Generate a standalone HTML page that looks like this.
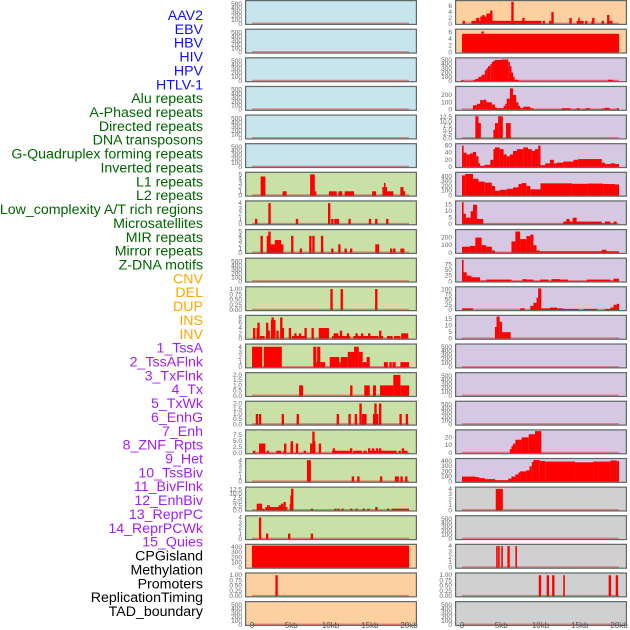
<!DOCTYPE html>
<html><head><meta charset="utf-8"><style>
html,body{margin:0;padding:0;background:#fff;width:630px;height:630px;overflow:hidden}
svg{display:block;font-family:"Liberation Sans",sans-serif}
</style></head><body>
<svg id="chart" width="630" height="630"></svg>
<script>
// ---- data ----
const labelTexts=["AAV2","EBV","HBV","HIV","HPV","HTLV-1","Alu repeats","A-Phased repeats","Directed repeats","DNA transposons","G-Quadruplex forming repeats","Inverted repeats","L1 repeats","L2 repeats","Low_complexity A/T rich regions","Microsatellites","MIR repeats","Mirror repeats","Z-DNA motifs","CNV","DEL","DUP","INS","INV","1_TssA","2_TssAFlnk","3_TxFlnk","4_Tx","5_TxWk","6_EnhG","7_Enh","8_ZNF_Rpts","9_Het","10_TssBiv","11_BivFlnk","12_EnhBiv","13_ReprPC","14_ReprPCWk","15_Quies","CPGisland","Methylation","Promoters","ReplicationTiming","TAD_boundary"];
const labelGroups=[6,13,5,15,5];
const labelColors=["#1010ee","#006400","#ffa500","#a020f0","#000000"];
const xTickLabels=["0","5kb","10kb","15kb","20kb"];
const xTickValues=[0,5,10,15,20];
const leftBg=["b","b","b","b","b","b","g","g","g","g","g","g","g","g","g","g","g","g","g","o","o","o"];
const rightBg=["o","o","p","p","p","p","p","p","p","p","p","p","p","p","p","p","p","y","y","y","y","y"];
const E=[0,100,200,300,400,500];
const leftYmax=[550,550,550,550,550,550,5.2,4.2,5.2,550,1.05,8.3,4.3,2.1,2.1,9.2,4.1,13.2,4.1,430,1.05,550];
const leftTicks=[E,E,E,E,E,E,[0,1,2,3,4,5],[0,1,2,3,4],[0,1,2,3,4,5],E,[0,0.25,0.5,0.75,1],[0,2,4,6,8],[0,1,2,3,4],[0,0.5,1,1.5,2],[0,0.5,1,1.5,2],[0,2.5,5,7.5],[0,1,2,3,4],[0,2.5,5,7.5,10,12.5],[0,1,2,3,4],[0,100,200,300,400],[0,0.25,0.5,0.75,1],E];
const rightYmax=[7.5,6.5,520,300,13,62,460,17,290,97,107,17,550,550,550,28,425,4.1,550,4.1,1.05,550];
const rightTicks=[[0,2,4,6],[0,2,4,6],[0,100,200,300,400,500],[0,100,200],[0,2.5,5,7.5,10,12.5],[0,20,40,60],[0,100,200,300,400],[0,5,10,15],[0,100,200],[0,25,50,75],[0,25,50,75,100],[0,5,10,15],E,E,E,[0,10,20],[0,100,200,300,400],[0,1,2,3,4],E,[0,1,2,3,4],[0,0.25,0.5,0.75,1],E];
// segments [startKb,endKb,value] or spikes [posKb,value]
const L6=[[1.1,1.7,4.5],[3.9,4.4,1],[7.4,8.0,5],[8.0,8.2,1],[9.8,10.8,1],[11.0,11.5,1],[11.8,13.0,1],[15.3,15.8,1],[16.6,16.8,2],[16.8,16.95,3],[16.95,17.2,2],[17.2,18.0,1],[18.9,19.3,2],[19.3,19.5,1]];
const L7=[[0.5,1],[2.2,4],[5.7,1],[9.8,4],[10.2,1],[10.6,1],[10.9,1],[12.4,1],[15.0,1],[15.8,1],[17.2,1]];
const L8=[[1.2,4],[1.9,4.0,2],[2.0,4],[2.2,5],[2.9,3.7,3],[5.1,4],[6.2,1],[7.4,4],[7.8,4],[8.9,4],[10.2,1],[11.1,2],[11.9,1],[12.6,1],[15.7,16.2,2],[17.7,1],[18.1,1],[18.9,19.4,1]];
const L10=[[10.1,1],[11.4,1],[15.8,1]];
const L11=[[0.25,4],[0.7,4],[0.8,6],[1.0,1.6,1],[1.9,6],[2.1,3],[2.4,3.0,7],[2.6,8],[3.1,3.4,3],[3.7,8],[3.9,4],[4.8,4],[5.1,6.8,1],[5.5,2],[6.1,2],[6.8,4],[7.7,4],[8.5,9.8,4],[10.2,12.5,1],[10.4,11.0,2],[11.3,3],[12.2,2],[12.9,16.1,1],[13.3,2],[14.0,2],[14.9,2],[16.3,3],[16.4,16.7,1],[17.2,17.9,1],[18.1,18.9,1],[19.0,19.9,2]];
const L12=[[0,1.3,4],[1.5,3.8,4],[7.8,8.2,4],[8.3,8.7,4],[8.2,8.3,1],[8.7,9.3,1],[9.9,11.1,2],[11.1,11.3,1],[11.3,12.2,2],[12.2,13.0,3],[13.0,13.6,4],[13.6,14.1,3],[14.1,14.6,1],[14.6,15.0,2],[16.8,17.3,1],[17.5,17.8,1],[17.9,18.3,1],[18.9,20.0,1]];
const L13=[[6.0,6.5,1],[12.5,12.8,1],[14.3,15.0,1],[15.4,15.8,1],[16.3,18.0,1],[18.0,18.9,2],[18.9,20.0,1]];
const L14=[[0.6,1],[1.0,1],[3.9,1],[5.8,1],[10.9,1],[12.4,1],[13.2,1],[13.8,2],[14.0,14.6,1],[15.4,16.1,1],[15.7,2],[16.3,2],[18.9,1],[19.7,1]];
const L15=[[0.25,1],[0.9,1.7,4],[2.0,1],[3.1,3.7,1],[4.0,4.3,1],[4.2,4],[4.9,5.2,4],[5.05,5],[5.7,4],[6.7,1],[7.4,7.7,4],[7.8,9],[7.9,5],[8.5,8.8,4],[10.2,12.5,1],[10.4,2],[12.6,2],[12.9,14.0,1],[14.2,14.6,1],[14.8,16.9,1],[14.9,2],[15.4,2],[15.9,2],[16.3,2],[16.9,18.4,1],[18.8,1],[19.2,2],[19.3,19.8,1]];
const L16=[[7.0,7.5,4],[12.7,13.0,1],[13.4,13.7,1],[16.3,16.6,1],[18.2,18.7,1],[18.9,19.2,1],[19.5,19.8,1]];
const L17=[[0.6,1.0,4],[1.0,1.6,1],[1.1,4],[1.7,4.2,2],[1.9,2.3,3],[3.5,3],[3.8,4],[4.0,4.3,5],[4.3,4.5,2],[4.8,5.1,4],[5.0,9],[5.1,13],[7.6,1],[10.6,1],[11.0,1],[11.5,1],[12.6,1],[13.3,1],[14.2,1],[14.8,1],[15.7,16.0,2],[17.3,1],[17.8,20.0,1]];
const L18=[[1.0,4],[1.9,1],[4.7,1],[7.6,1]];
const L19=[[0,20.0,430]];
const L20=[[3.1,1]];
const R0=[[0.2,1],[1.2,1.8,1],[1.8,2.2,2],[2.2,2.5,1],[2.45,2.5],[2.5,3.1,2.5],[2.7,3],[3.1,3.7,3.5],[3.7,4.5],[3.7,10.1,1],[6.3,6.5,3],[6.4,7.5],[7.8,2],[10.4,1],[11.2,1],[11.5,4],[13.8,2],[14.6,15.5,1],[14.8,15.0,2],[15.8,1],[16.6,1],[16.7,2],[17.9,1],[18.5,18.9,1],[18.6,3],[19.0,1]];
const R1=[[0,20,5.5],[2.6,6.2]];
const R2=[[0,20],[1.4,1.7,20],[1.7,2.1,50],[2.1,2.5,100],[2.5,2.9,150],[2.9,3.1,250],[3.1,3.3,300],[3.3,3.6,350],[3.6,3.8,400],[3.8,4.0,450],[4.0,4.2,480],[4.2,5.1,500],[5.1,5.9,510],[5.9,6.1,450],[6.1,6.3,350],[6.3,6.5,200],[6.5,6.7,100],[6.7,7.2,30],[7.2,20,5],[18.6,19.2,30]];
const R3=[[1.4,1.9,60],[1.9,2.3,80],[2.3,2.7,130],[2.7,3.1,135],[3.1,3.8,100],[3.8,4.2,70],[4.2,4.4,30],[4.4,5.3,20],[5.3,5.5,50],[5.5,5.7,80],[5.7,6.1,150],[6.1,6.5,290],[6.5,6.9,200],[6.9,7.2,100],[7.2,7.4,50],[7.4,7.8,20],[7.8,8.7,40],[8.7,9.1,20],[9.1,19.7,5],[12.7,13.8,20],[14.6,15.0,20],[15.7,16.3,20],[17.8,18.4,15],[18.2,18.8,25],[19.7,20,20]];
const R4=[[1.7,2.1,13],[2.1,2.4,9],[4.0,4.2,5],[4.2,4.6,9],[4.6,5.2,13],[5.6,6.2,9]];
const R5=[[0,0.2,60],[0.2,0.6,40],[0.6,1.0,35],[1.0,1.4,38],[1.4,1.8,42],[1.8,2.1,30],[2.1,2.3,10],[2.3,2.9,3],[2.9,3.6,6],[3.6,4.0,20],[4.0,4.2,50],[4.2,4.8,55],[4.8,5.3,50],[5.3,5.7,35],[5.7,6.1,30],[6.1,6.5,35],[6.5,7.0,45],[7.0,7.8,50],[7.8,8.4,55],[8.4,8.9,50],[8.9,9.3,45],[9.3,9.7,50],[9.7,10.0,60],[10.0,10.6,5],[10.6,11.2,10],[11.2,11.7,20],[11.7,12.1,10],[12.1,12.9,12],[12.9,13.3,15],[13.3,14.2,15],[14.2,14.8,20],[14.8,17.8,22],[17.8,18.2,12],[18.2,18.9,8],[18.9,19.5,10],[19.5,20,8]];
const R6=[[0,0.4,420],[0.4,1.4,450],[1.4,2.1,350],[2.1,2.9,290],[2.9,3.8,270],[3.8,4.2,200],[4.2,4.8,100],[4.8,5.7,120],[5.7,6.5,140],[6.5,7.2,170],[7.2,7.6,240],[7.6,8.2,260],[8.2,8.7,200],[8.7,10.0,130],[10.0,14.0,255],[14.0,16.0,245],[16.0,18.0,250],[18.0,19.5,240],[19.5,20,230]];
const R7=[[0,0.2,17],[0.2,0.5,8],[0.5,1.1,5],[1.1,1.4,10],[1.4,1.9,15],[1.9,2.7,4],[2.7,12.9,0.3],[12.9,13.3,2],[13.3,13.7,4],[13.7,14.1,2],[14.1,14.6,5],[14.6,17.8,2],[17.8,18.2,0.5],[18.2,18.9,2],[18.9,19.3,0.5],[19.3,19.7,2]];
const R8=[[0,1.0,80],[1.0,1.7,90],[1.7,2.5,200],[2.5,3.1,100],[3.1,3.8,80],[3.8,4.2,30],[4.2,6.3,5],[6.3,6.8,150],[6.8,7.4,280],[7.4,8.2,180],[8.2,8.7,220],[8.7,9.1,240],[9.1,9.5,100],[9.5,9.9,30],[9.9,20,20],[17.8,18.4,40]];
const R9=[[0,0.2,95],[0.2,0.6,40],[0.6,1.2,25],[1.2,2.3,18],[2.3,3.1,3],[3.1,6.3,8],[6.3,7.7,2],[7.7,8.2,10],[8.2,9.1,8],[9.1,9.9,2],[9.9,11.0,8],[11.0,11.4,2],[11.4,12.5,10],[12.5,13.5,8],[13.5,15.9,2],[15.9,18.9,8],[18.9,19.3,2],[19.3,20,12]];
const R10=[[0,1.4,8],[7.4,8.0,8],[8.7,9.1,20],[9.1,9.5,35],[9.5,9.7,60],[9.7,10.1,105],[10.1,11.2,8],[11.2,12.1,12],[12.1,12.9,8],[12.9,14.9,5],[15.5,17.2,5],[18.2,18.9,5],[18.9,19.3,12],[19.3,19.7,25],[19.7,20,30]];
const R11=[[4.2,4.4,9],[4.4,4.8,17],[4.8,5.1,13],[5.1,6.2,5]];
const R15=[[6.1,6.3,5],[6.3,6.5,9],[6.5,6.8,12],[6.8,7.6,17],[7.6,8.5,20],[8.5,9.3,24],[9.3,10.1,28]];
const R16=[[0,1.7,100],[1.7,2.2,90],[2.2,2.9,70],[2.9,4.2,50],[4.2,5.9,30],[5.9,6.3,60],[6.3,6.8,100],[6.8,7.2,140],[7.2,7.4,180],[7.4,8.2,200],[8.2,8.6,220],[8.6,8.9,300],[8.9,9.1,380],[9.1,9.9,420],[9.9,10.6,400],[10.6,14.4,390],[14.4,16.7,375],[16.7,18.9,390],[18.9,19.7,410],[19.7,20,400]];
const R17=[[4.3,5.2,4]];
const R19=[[4.35,4.55,4],[4.6,4.8,4],[5.0,5.2,4],[5.9,4],[6.8,7.0,4]];
const R20=[[9.9,1],[10.9,1],[11.6,1],[12.9,13.1,1],[18.8,1],[19.7,1]];
const leftData=[[],[],[],[],[],[],L6,L7,L8,[],L10,L11,L12,L13,L14,L15,L16,L17,L18,L19,L20,[]];
const rightData=[R0,R1,R2,R3,R4,R5,R6,R7,R8,R9,R10,R11,[],[],[],R15,R16,R17,[],R19,R20,[]];

// ---- rendering ----
const NS="http://www.w3.org/2000/svg";
const svg=document.getElementById('chart');
const bgColors={b:"#c8e4ec",g:"#c9e0a6",o:"#ffd09f",p:"#d6c7e3",y:"#d0d0d0"};
const ROW_PITCH=28.62, PANEL_H=25, PANEL_W=172, PLOT_OFF=7, PLOT_W=157;
function mk(tag,attrs,parent){const e=document.createElementNS(NS,tag);for(const k in attrs)e.setAttribute(k,attrs[k]);(parent||svg).appendChild(e);return e;}
function fmt(ticks,v){
  let dec=0;
  if(ticks.some(t=>Math.abs(t*10-Math.round(t*10))>1e-9))dec=2;
  else if(ticks.some(t=>Math.abs(t-Math.round(t))>1e-9))dec=1;
  return v.toFixed(dec);
}
function drawPanel(col,row,bg,ymax,ticks,data){
  const px=col===0?245:455, top=row*ROW_PITCH;
  const g=mk('g',{});
  
  
  const xS=kb=>px+PLOT_OFF+kb/20*PLOT_W;
  const base=top+PANEL_H-1.2, h=PANEL_H-3;
  const yS=v=>base-v/ymax*h;
  mk('rect',{x:px,y:top,width:PANEL_W,height:PANEL_H,fill:bgColors[bg]},g);
  mk('line',{x1:xS(0),x2:xS(20),y1:base-0.5,y2:base-0.5,stroke:"rgba(220,60,60,0.55)","stroke-width":1.6},g);
  data.forEach(d=>{
    let s,e,v;
    if(d.length===2){s=d[0]-0.12;e=d[0]+0.18;v=d[1];}else{s=d[0];e=d[1];v=d[2];}
    const r=mk('rect',{x:xS(s),y:yS(v),width:Math.max(1.6,xS(e)-xS(s)),height:base-yS(v),fill:"#ff0000"},g);
    
    
  });
  mk('rect',{x:px+0.6,y:top+0.6,width:PANEL_W-1.2,height:PANEL_H-1.2,fill:"none",stroke:"#5f6a6a","stroke-width":1.2},g);
  ticks.forEach(t=>{
    const tx=mk('text',{x:px-3,y:yS(t)+2,"font-size":6.5,fill:"#666","text-anchor":"end"},g);
    tx.textContent=fmt(ticks,t);
    
    
  });
}
for(let r=0;r<22;r++){
  drawPanel(0,r,leftBg[r],leftYmax[r],leftTicks[r],leftData[r]);
  drawPanel(1,r,rightBg[r],rightYmax[r],rightTicks[r],rightData[r]);
}
// x ticks
[0,1].forEach(c=>{
  const px=c===0?245:455;
  xTickValues.forEach((v,i)=>{
    const t=mk('text',{x:px+PLOT_OFF+v/20*PLOT_W,y:628,"font-size":8,fill:"#555","text-anchor":"middle"});
    t.textContent=xTickLabels[i];
    
    
  });
});
// labels
let gi=0,cnt=0;
labelTexts.forEach((s,i)=>{
  while(cnt>=labelGroups[gi]){gi++;cnt=0;}
  cnt++;
  const t=mk('text',{x:203,y:15+i*13.86+5,"font-size":14.2,fill:labelColors[gi],"text-anchor":"end"});
  t.textContent=s;
  
  
});
</script>
</body></html>
